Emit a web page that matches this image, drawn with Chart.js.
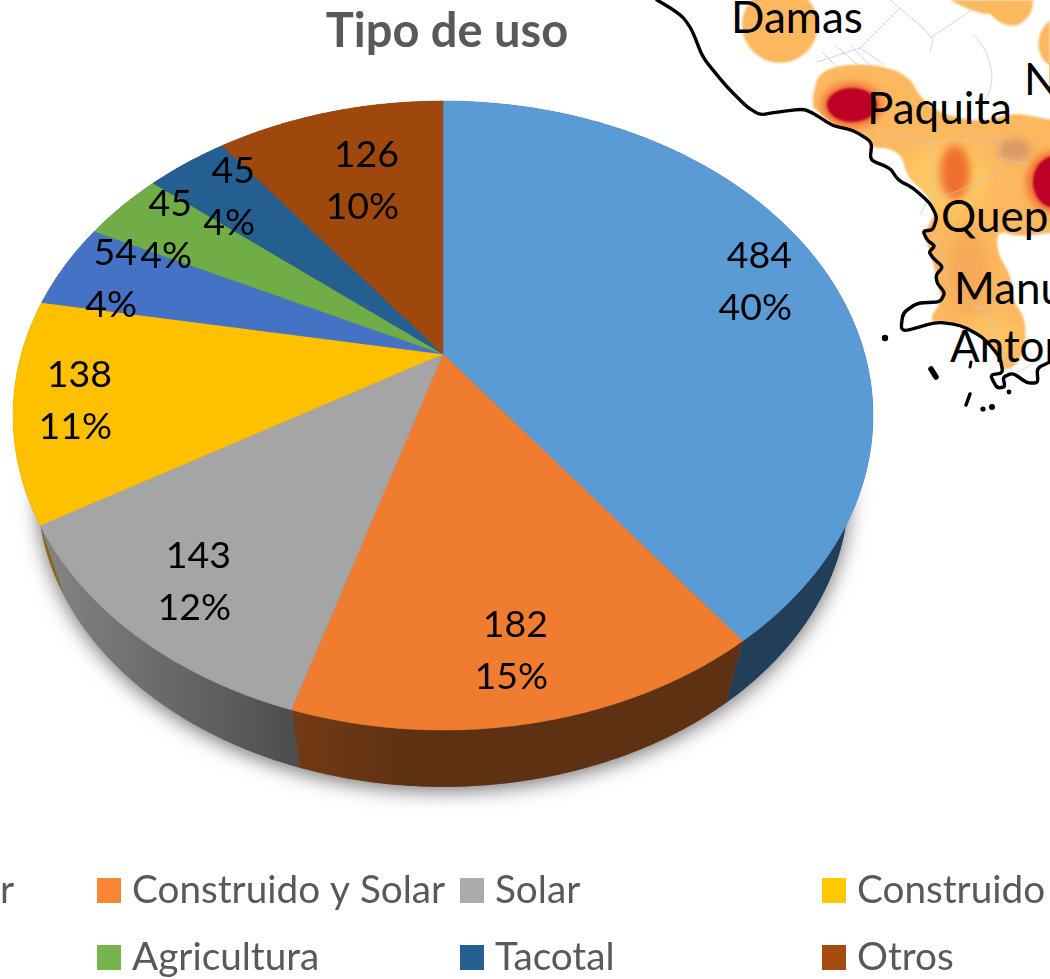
<!DOCTYPE html>
<html lang="es">
<head>
<meta charset="utf-8">
<title>Tipo de uso</title>
<script src="https://cdn.jsdelivr.net/npm/chart.js@4/dist/chart.umd.min.js"></script>
<style>
html,body{margin:0;padding:0;background:#fff;overflow:hidden;width:1050px;height:979px}
#wrap{position:relative;width:1050px;height:979px;overflow:hidden}
#map,#c{position:absolute;left:0;top:0}
#map text{font-family:Lato,sans-serif;font-size:44px;fill:#000}
</style>
</head>
<body>
<div id="wrap">
<svg id="map" width="1050" height="979" viewBox="0 0 1050 979">
  <defs>
    <filter id="b1" x="-20%" y="-20%" width="140%" height="140%"><feGaussianBlur stdDeviation="1.2"/></filter>
    <filter id="b4" x="-60%" y="-60%" width="220%" height="220%"><feGaussianBlur stdDeviation="4"/></filter>
    <filter id="b8" x="-60%" y="-60%" width="220%" height="220%"><feGaussianBlur stdDeviation="8"/></filter>
    <clipPath id="landClip"><path id="landClipPath"/></clipPath>
  </defs>
  <g fill="#FBB85F" filter="url(#b1)">
    <circle cx="780" cy="25" r="38"/>
    <path d="M950 0 Q975 14 990 14 Q1005 30 1020 24 Q1034 15 1033 0Z"/>
    <path d="M1050 20 Q1036 32 1039 50 Q1042 62 1050 65Z"/>
    <path id="land"/>
  </g>
  <g clip-path="url(#landClip)">
    <g filter="url(#b8)">
      <ellipse cx="945" cy="180" rx="44" ry="36" fill="#FFC762"/>
      <ellipse cx="968" cy="272" rx="20" ry="44" fill="#F6A856"/>
      <ellipse cx="990" cy="340" rx="26" ry="22" fill="#FFC462"/>
    </g>
    <g filter="url(#b4)">
      <ellipse cx="852" cy="105" rx="30" ry="22" fill="#F0672E"/>
      <ellipse cx="955" cy="172" rx="15" ry="27" fill="#F0702E"/>
      <ellipse cx="1015" cy="150" rx="17" ry="11" fill="#D99A68"/>
      <ellipse cx="1053" cy="182" rx="26" ry="30" fill="#F0672E"/>
    </g>
    <g fill="#BC0227" filter="url(#b1)">
      <ellipse cx="852" cy="105" rx="25" ry="17"/>
      <ellipse cx="1055" cy="182" rx="22" ry="26"/>
    </g>
  </g>
  <g fill="none" stroke="#C9C9C9" stroke-width="1" opacity=".75">
    <path d="M817 62 L860 48 L885 65 M822 52 L840 70 M835 45 L858 65 M850 45 L872 68"/>
    <path d="M860 48 L900 8 L925 30 L933 40 L930 52 M900 8 L890 0 M930 38 L960 18 L985 0"/>
    <path d="M972 33 Q990 50 992 75 Q992 90 985 100 M880 132 L932 144 L950 140 L1010 138 M968 128 L968 138 M932 144 L932 192 L920 215"/>
    <path d="M935 200 L985 180 L1000 170 M1000 140 L1000 158 L1030 165"/>
    <path d="M935 235 L950 290 L985 310 L1000 345 M975 310 L1010 300"/>
    <path d="M1012 375 L1040 360 M1000 345 L1012 370"/>
  </g>
  <g fill="none" stroke="#000" stroke-width="3.4" stroke-linejoin="round" stroke-linecap="round">
    <path id="coast"/>
    <path d="M931 369 L936 377" stroke-width="5.5"/>
    <path d="M970 394 L966 405" stroke-width="3.5"/>
    <path d="M971 362 L970 367" stroke-width="3"/>
  </g>
  <g fill="#000">
    <circle cx="885" cy="338" r="3.2"/>
    <circle cx="983" cy="409" r="2.6"/>
    <circle cx="992" cy="407" r="3"/>
    <circle cx="1009" cy="392" r="2.4"/>
  </g>
  <text x="731" y="33">Damas</text>
  <text x="867" y="124">Paquita</text>
  <text x="1024" y="95">N</text>
  <text x="941" y="232">Quepos</text>
  <text x="954" y="304">Manuel</text>
  <text x="950" y="362">Antonio</text>
</svg>
<canvas id="c" width="1050" height="979"></canvas>
</div>
<script>
const chartTitle = 'Tipo de uso';
const categories = ['Vivienda familiar', 'Construido y Solar', 'Solar', 'Construido', 'Pasto', 'Agricultura', 'Tacotal', 'Otros'];
const values = [484, 182, 143, 138, 54, 45, 45, 126];
const sliceColors = ['#5B9BD5', '#F07D2F', '#A5A5A5', '#FFC000', '#4472C4', '#70AD47', '#255E91', '#9E480E'];
const legendColors = ['#5B9BD5', '#F98535', '#ABABAB', '#FFC800', '#4472C4', '#78B44C', '#255E91', '#A54B0E'];
const wallStops = [
  [[0, '#213F59'], [1, '#213F59']],
  [[0, '#733B15'], [0.25, '#5F3113'], [1, '#5F3113']],
  [[0, '#858585'], [1, '#4C4C4C']],
  [[0, '#8C6A00'], [1, '#8C6A00']],
  [[0, '#28446F'], [1, '#28446F']],
  [[0, '#40652A'], [1, '#40652A']],
  [[0, '#143452'], [1, '#143452']],
  [[0, '#5A2908'], [1, '#5A2908']]
];

/* background map outlines */
const coastLine = [[657,0],[672,9],[683,17],[692,30],[703,58],[727,87],[747,107],[760,115],[777,112],[803,109],[813,113],[833,126],[853,130],[872,142],[870,160],[890,168],[898,180],[913,188],[930,203],[937,217],[933,230],[923,231],[927,240],[935,246],[929,252],[933,258],[943,267],[936,275],[937,283],[945,293],[940,302],[917,303],[903,313],[901,328],[905,331],[937,322],[960,325],[983,337],[1000,357],[1003,373],[990,375],[997,388],[1005,387],[1003,377],[1013,373],[1027,383],[1038,383],[1037,368],[1050,362]];
const landEdge = [[813,97],[818,72],[850,63],[890,67],[912,80],[917,93],[937,113],[983,123],[1013,112],[1050,120],[1060,120],[1060,233],[1050,233],[1017,237],[997,230],[997,253],[1012,277],[1012,300],[1027,320],[1023,360],[1003,373],[997,357],[980,333],[950,322],[927,322],[943,300],[937,283],[933,260],[923,233],[937,213],[927,193],[907,177],[903,157],[890,148],[872,148],[870,137],[833,125],[813,107]];

/* perspective view of the pie's circular plane */
const view = { sx: 421.7 / 252, sy: 302.5 / 252, k: 0.1955, vpX: 446, vpY: 1727, depth: 0.943 };
/* right edge and first-line centre of each data label */
const labelSpots = [[792, 256], [548, 625], [231, 556], [112, 375], [137, 253], [192, 204], [255, 171], [399, 155]];
const labelFont = '37.5px Lato, sans-serif';
const labelLead = 52;
const legendFont = '38.7px Lato, sans-serif';
const legendCols = [97, 460, 822];
const legendRows = [891, 958];

function softPath(pts, closed, f) {
  const lerp = (a, b, t) => [a[0] + (b[0] - a[0]) * t, a[1] + (b[1] - a[1]) * t];
  let d = 'M' + pts[0][0] + ' ' + pts[0][1];
  for (let i = 1; i < pts.length - 1; i++) {
    const a = lerp(pts[i], pts[i - 1], f), b = lerp(pts[i], pts[i + 1], f);
    d += ' L' + a[0] + ' ' + a[1] + ' Q' + pts[i][0] + ' ' + pts[i][1] + ' ' + b[0] + ' ' + b[1];
  }
  const e = pts[pts.length - 1];
  return d + ' L' + e[0] + ' ' + e[1] + (closed ? 'Z' : '');
}
document.getElementById('coast').setAttribute('d', softPath(coastLine, false, 0.3));
document.getElementById('land').setAttribute('d', softPath(landEdge, true, 0.5));
document.getElementById('landClipPath').setAttribute('d', softPath(landEdge, true, 0.5));

function project(el, theta) {
  const u = Math.cos(theta), v = -Math.sin(theta), w = 1 + view.k * v, R = el.outerRadius;
  return [el.x + view.sx * R * u / w, el.y - view.sy * R * v / w];
}
function toBottom(p) {
  return [view.vpX + view.depth * (p[0] - view.vpX), view.vpY + view.depth * (p[1] - view.vpY)];
}
function rim(el, a0, a1) {
  const n = Math.max(2, Math.ceil(Math.abs(a1 - a0) / 0.008)), pts = [];
  for (let i = 0; i <= n; i++) pts.push(project(el, a0 + (a1 - a0) * i / n));
  return pts;
}
function tracePoly(ctx, pts) {
  ctx.beginPath();
  pts.forEach((p, i) => i ? ctx.lineTo(p[0], p[1]) : ctx.moveTo(p[0], p[1]));
  ctx.closePath();
}

const perspectivePie = {
  id: 'perspectivePie',
  afterLayout(chart) {
    if (chart.titleBlock) chart.titleBlock.left += 8;
  },
  beforeDatasetDraw(chart, args) {
    const ctx = chart.ctx, arcs = args.meta.data;
    /* soft shadow under the disc */
    const base = rim(arcs[0], 0, Math.PI * 2).map(toBottom);
    ctx.save();
    ctx.shadowColor = 'rgba(0,0,0,0.55)';
    ctx.shadowBlur = 20;
    ctx.shadowOffsetY = 4;
    ctx.fillStyle = '#666';
    tracePoly(ctx, base);
    ctx.fill();
    ctx.restore();
    /* side walls */
    arcs.forEach((el, i) => {
      const top = rim(el, el.startAngle, el.endAngle);
      const poly = top.concat(top.map(toBottom).reverse());
      const xs = poly.map(p => p[0]);
      const g = ctx.createLinearGradient(Math.min(...xs), 0, Math.max(...xs), 0);
      wallStops[i].forEach(s => g.addColorStop(s[0], s[1]));
      ctx.fillStyle = g;
      tracePoly(ctx, poly);
      ctx.fill();
    });
    /* top faces */
    arcs.forEach((el, i) => {
      const pts = [[el.x, el.y]].concat(rim(el, el.startAngle, el.endAngle));
      ctx.fillStyle = sliceColors[i];
      ctx.strokeStyle = sliceColors[i];
      ctx.lineWidth = 0.5;
      tracePoly(ctx, pts);
      ctx.fill();
      ctx.stroke();
    });
    return false;
  },
  afterDatasetsDraw(chart) {
    const ctx = chart.ctx, data = chart.data.datasets[0].data;
    const total = data.reduce((a, b) => a + b, 0);
    ctx.save();
    ctx.font = labelFont;
    ctx.fillStyle = '#000';
    ctx.textAlign = 'right';
    ctx.textBaseline = 'middle';
    data.forEach((val, i) => {
      const [x, y] = labelSpots[i];
      ctx.fillText(String(val), x, y);
      ctx.fillText(Math.round(val / total * 100) + '%', x, y + labelLead);
    });
    /* legend, laid out as in the source: it runs off the left edge */
    ctx.font = legendFont;
    ctx.textAlign = 'left';
    const order = [[0, -1, 0], [1, 0, 0], [2, 1, 0], [3, 2, 0], [4, -1, 1], [5, 0, 1], [6, 1, 1], [7, 2, 1]];
    order.forEach(([idx, col, row]) => {
      const y = legendRows[row];
      const name = chart.data.labels[idx];
      let bx = col >= 0 ? legendCols[col] : 14 - ctx.measureText(name).width - 35;
      if (col < 0 && row === 1) bx = -200;
      ctx.fillStyle = legendColors[idx];
      ctx.fillRect(bx, y - 13, 24, 25);
      ctx.fillStyle = '#595959';
      ctx.fillText(name, bx + 35, y);
    });
    ctx.restore();
  }
};

new Chart(document.getElementById('c'), {
  type: 'pie',
  data: {
    labels: categories,
    datasets: [{ data: values, backgroundColor: sliceColors, borderWidth: 0 }]
  },
  options: {
    responsive: false,
    animation: false,
    layout: { padding: { left: 191, right: 355, top: 4, bottom: 373 } },
    plugins: {
      legend: { display: false },
      tooltip: { enabled: false },
      title: {
        display: true,
        text: chartTitle,
        fullSize: false,
        color: '#595959',
        font: { family: 'Lato, sans-serif', size: 47, weight: 'bold', lineHeight: 1.2 },
        padding: { top: 0, bottom: 41.6 }
      }
    }
  },
  plugins: [perspectivePie]
});
</script>
</body>
</html>
